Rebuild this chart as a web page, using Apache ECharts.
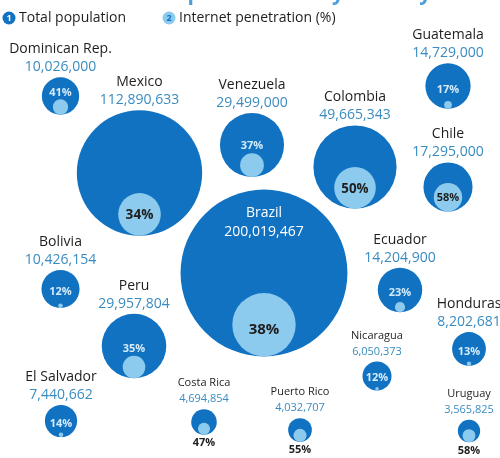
<!DOCTYPE html>
<html>
<head>
<meta charset="utf-8">
<script src="https://cdn.jsdelivr.net/npm/echarts@6/dist/echarts.min.js"></script>
<style>
  html, body { margin: 0; padding: 0; background: #ffffff; }
  #chart { width: 500px; height: 458px; }
</style>
</head>
<body>
<div id="chart"></div>
<script>
// Latin America: total population and internet penetration by country
const countries = ['Dominican Rep.', 'Mexico', 'Venezuela', 'Colombia', 'Guatemala', 'Chile',
  'Brazil', 'Bolivia', 'Peru', 'Ecuador', 'Honduras', 'Nicaragua', 'El Salvador',
  'Costa Rica', 'Puerto Rico', 'Uruguay'];
const population = [10026000, 112890633, 29499000, 49665343, 14729000, 17295000,
  200019467, 10426154, 29957804, 14204900, 8202681, 6050373, 7440662,
  4694854, 4032707, 3565825];
const internetPct = [41, 34, 37, 50, 17, 58, 38, 12, 35, 23, 13, 12, 14, 47, 55, 58];

// Bubble placement on the page (layout only, in pixel units of the hidden axes)
const bubbleCenters = [
  [60.5, 96], [139.5, 173], [252, 145], [355, 167], [448, 86], [448, 187],
  [264, 273], [60.5, 289], [134, 346], [400, 290], [469, 349], [377, 376],
  [61, 421], [204, 422], [300, 430], [469, 431]
];

const FONT = '"Open Sans", "Noto Sans", sans-serif';
const DARK_BLUE = '#1172c2';
const LIGHT_BLUE = '#8ccaee';
const NUM_BLUE = '#3a8cc0';
const INK = '#1e1e1e';

// Outer bubble area is proportional to population
const K = 5.9;
const radiusOf = (pop) => K * Math.sqrt(pop / 1e6);
const fmt = (n) => n.toLocaleString('en-US');

const outerData = [];
const innerData = [];

countries.forEach((name, i) => {
  const [cx, cy] = bubbleCenters[i];
  const R = radiusOf(population[i]);
  const r = R * internetPct[i] / 100;       // inner radius scales with the share
  const small = population[i] < 7e6;
  const isGiant = R > 70;

  let nameLabel;
  if (isGiant) {
    nameLabel = {
      show: true, position: 'inside', offset: [0, -50],
      formatter: '{w|' + name + '}\n{w|' + fmt(population[i]) + '}',
      rich: { w: { fontFamily: FONT, fontSize: 14, color: '#ffffff', lineHeight: 19, align: 'center' } }
    };
  } else {
    nameLabel = {
      show: true, position: 'top', distance: small ? 2 : 1,
      formatter: '{n|' + name + '}\n{p|' + fmt(population[i]) + '}',
      rich: {
        n: { fontFamily: FONT, fontSize: small ? 11 : 14, color: INK, lineHeight: small ? 16 : 18, align: 'center' },
        p: { fontFamily: FONT, fontSize: small ? 11 : 14, color: NUM_BLUE, lineHeight: small ? 16 : 18, align: 'center' }
      }
    };
  }
  outerData.push({ name, value: [cx, cy], symbolSize: 2 * R, label: nameLabel });

  const innerCy = cy + R - r;
  let pctLabel;
  if (r >= 13) {
    pctLabel = {
      show: true, position: 'inside',
      offset: [0, isGiant ? 5 : 1],
      fontFamily: FONT, fontWeight: 'bold',
      fontSize: Math.min(15, Math.max(11, 0.45 * r + 4)),
      color: INK
    };
  } else if (R < 13) {
    pctLabel = {
      show: true, position: 'bottom', distance: 3,
      fontFamily: FONT, fontWeight: 'bold', fontSize: 11, color: INK
    };
  } else {
    const targetY = Math.min(cy + 0.15 * R, cy + R - 2 * r - 7);
    pctLabel = {
      show: true, position: 'inside', offset: [0, targetY - innerCy],
      fontFamily: FONT, fontWeight: 'bold', fontSize: 11, color: '#d4ebfa'
    };
  }
  pctLabel.formatter = internetPct[i] + '%';
  innerData.push({ name, value: [cx, cy], symbolSize: 2 * r, symbolOffset: [0, R - r], label: pctLabel });
});

const chart = echarts.init(document.getElementById('chart'), null, { renderer: 'canvas' });
chart.setOption({
  animation: false,
  backgroundColor: '#ffffff',
  grid: { left: 0, right: 0, top: 0, bottom: 0 },
  xAxis: { type: 'value', min: 0, max: 500, show: false },
  yAxis: { type: 'value', min: 0, max: 458, inverse: true, show: false },
  series: [
    {
      name: 'Total population', type: 'scatter', symbol: 'circle', silent: true,
      itemStyle: { color: DARK_BLUE, opacity: 1 },
      data: outerData, z: 2
    },
    {
      name: 'Internet penetration (%)', type: 'scatter', symbol: 'circle', silent: true,
      itemStyle: { color: LIGHT_BLUE, opacity: 1 },
      data: innerData, z: 3
    }
  ],
  graphic: [
    {
      type: 'text', x: 95, y: 5, silent: true,
      style: { text: 'Internet penetration by country', font: 'bold 21px ' + FONT, fill: '#4a9fdc', verticalAlign: 'bottom' }
    },
    { type: 'circle', shape: { cx: 9, cy: 18, r: 6.5 }, style: { fill: DARK_BLUE }, silent: true },
    { type: 'text', x: 9, y: 18, silent: true,
      style: { text: '1', font: 'bold 9px ' + FONT, fill: '#ffffff', align: 'center', verticalAlign: 'middle' } },
    { type: 'text', x: 19, y: 18, silent: true,
      style: { text: 'Total population', font: '14px ' + FONT, fill: INK, verticalAlign: 'middle' } },
    { type: 'circle', shape: { cx: 169, cy: 18, r: 6.5 }, style: { fill: LIGHT_BLUE }, silent: true },
    { type: 'text', x: 169, y: 18, silent: true,
      style: { text: '2', font: 'bold 9px ' + FONT, fill: DARK_BLUE, align: 'center', verticalAlign: 'middle' } },
    { type: 'text', x: 179, y: 18, silent: true,
      style: { text: 'Internet penetration (%)', font: '14px ' + FONT, fill: INK, verticalAlign: 'middle' } }
  ]
});
</script>
</body>
</html>
